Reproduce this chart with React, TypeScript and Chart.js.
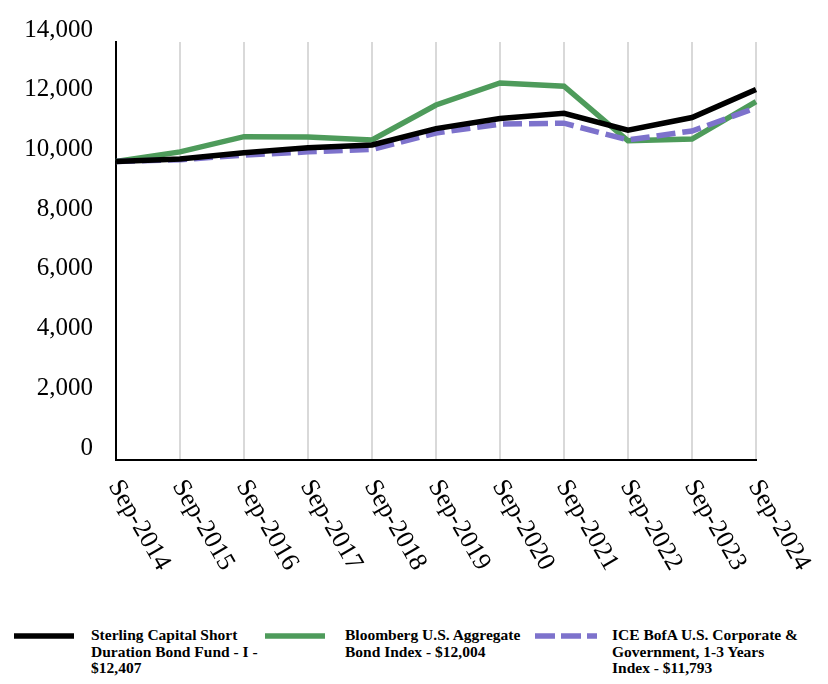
import React, { useEffect, useRef } from "react";
import { Chart, registerables } from "chart.js";

Chart.register(...registerables);

const categories = [
  "Sep-2014", "Sep-2015", "Sep-2016", "Sep-2017", "Sep-2018", "Sep-2019",
  "Sep-2020", "Sep-2021", "Sep-2022", "Sep-2023", "Sep-2024",
];
const sterlingValues = [10000, 10080, 10290, 10460, 10550, 11100, 11440, 11610, 11050, 11470, 12407];
const bloombergValues = [10000, 10320, 10830, 10820, 10720, 11890, 12630, 12520, 10690, 10750, 12004];
const iceValues = [10000, 10060, 10210, 10320, 10400, 10950, 11250, 11280, 10720, 11020, 11793];
const yTicks = [0, 2000, 4000, 6000, 8000, 10000, 12000, 14000];

const legendItems = [
  { color: "#000000", dash: false, lines: ["Sterling Capital Short", "Duration Bond Fund - I -", "$12,407"], swatchX: 14, textX: 91 },
  { color: "#4e9b5b", dash: false, lines: ["Bloomberg U.S. Aggregate", "Bond Index - $12,004"], swatchX: 265, textX: 345 },
  { color: "#7d72cc", dash: true, lines: ["ICE BofA U.S. Corporate &", "Government, 1-3 Years", "Index - $11,793"], swatchX: 535, textX: 612 },
];

const xLabelPlugin = {
  id: "rotatedXLabels",
  afterDraw(chart: any) {
    const xs = chart.scales.x;
    const ctx = chart.ctx;
    ctx.save();
    ctx.font = '26px "Liberation Serif", "Times New Roman", serif';
    ctx.fillStyle = "#000";
    ctx.textAlign = "left";
    ctx.textBaseline = "middle";
    categories.forEach((lab, i) => {
      const x = xs.getPixelForValue(i);
      ctx.save();
      ctx.translate(x - 2, 482);
      ctx.rotate((60 * Math.PI) / 180);
      ctx.fillText(lab, 0, 0);
      ctx.restore();
    });
    ctx.restore();
  },
};

export default function App() {
  const ref = useRef<HTMLCanvasElement | null>(null);

  useEffect(() => {
    if (!ref.current) return;
    const chart = new Chart(ref.current, {
      type: "line",
      data: {
        labels: categories,
        datasets: [
          {
            label: "Sterling Capital Short Duration Bond Fund - I - $12,407",
            data: sterlingValues,
            borderColor: "#000000",
            borderWidth: 5.5,
            pointRadius: 0,
            tension: 0,
            order: 1,
          },
          {
            label: "Bloomberg U.S. Aggregate Bond Index - $12,004",
            data: bloombergValues,
            borderColor: "#4e9b5b",
            borderWidth: 5.5,
            pointRadius: 0,
            tension: 0,
            order: 3,
          },
          {
            label: "ICE BofA U.S. Corporate & Government, 1-3 Years Index - $11,793",
            data: iceValues,
            borderColor: "#7d72cc",
            borderWidth: 5.5,
            borderDash: [19, 7],
            pointRadius: 0,
            tension: 0,
            order: 2,
          },
        ],
      },
      options: {
        responsive: false,
        animation: false,
        layout: { padding: { top: 42, right: 72, left: 0, bottom: 0 } },
        plugins: { legend: { display: false }, tooltip: { enabled: false } },
        scales: {
          x: {
            type: "category",
            offset: false,
            grid: { display: true, color: "#d9d9d9", lineWidth: 2, drawTicks: false },
            border: { display: true, color: "#000000", width: 2 },
            ticks: { display: false },
            afterFit: (s: any) => { s.height = 610 - 460; },
          },
          y: {
            min: 0,
            max: 14000,
            afterBuildTicks: (s: any) => { s.ticks = yTicks.map((v) => ({ value: v })); },
            grid: { display: false, drawTicks: false },
            border: { display: true, color: "#000000", width: 2 },
            ticks: {
              padding: 23,
              labelOffset: -12,
              color: "#000",
              font: { family: '"Liberation Serif", "Times New Roman", serif', size: 25 },
              callback: (v: any) => Number(v).toLocaleString("en-US"),
            },
            afterFit: (s: any) => { s.width = 116; },
          },
        },
      },
      plugins: [xLabelPlugin],
    });
    return () => chart.destroy();
  }, []);

  return (
    <div style={{ position: "absolute", left: 0, top: 0, width: 828, height: 684, background: "#fff", overflow: "hidden" }}>
      <canvas ref={ref} width={828} height={610} style={{ display: "block" }} />
      {legendItems.map((it, i) => (
        <React.Fragment key={i}>
          <svg style={{ position: "absolute", left: it.swatchX, top: 632 }} width={62} height={8}>
            <line
              x1={0} y1={4} x2={it.dash ? 62 : 60} y2={4}
              stroke={it.color} strokeWidth={5.5}
              strokeDasharray={it.dash ? "20 6" : undefined}
            />
          </svg>
          <div
            style={{
              position: "absolute",
              left: it.textX,
              top: 627,
              fontFamily: '"Liberation Serif", "Times New Roman", serif',
              fontWeight: "bold",
              fontSize: 15.5,
              lineHeight: "16.5px",
              color: "#000",
              whiteSpace: "nowrap",
            }}
          >
            {it.lines.map((l, j) => (
              <div key={j}>{l}</div>
            ))}
          </div>
        </React.Fragment>
      ))}
    </div>
  );
}
